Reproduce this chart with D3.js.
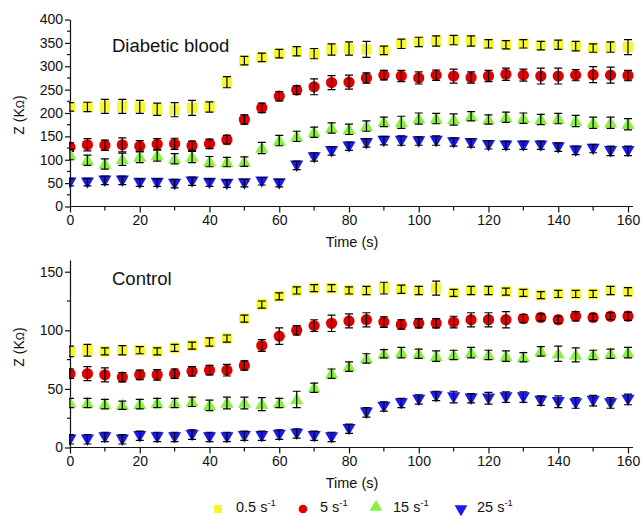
<!DOCTYPE html>
<html>
<head>
  <script src="https://d3js.org/d3.v7.min.js"></script>
  <style>
    body { margin: 0; background: #fff; }
    text { font-family: "Liberation Sans", Arial, sans-serif; fill: #111; }
    .axis path, .axis line { stroke: #111; stroke-width: 1.2px; }
    .axis text { font-size: 14px; }
    .err { stroke: #000; stroke-width: 1.2px; fill: none; }
  </style>
</head>
<body>
  <svg width="642" height="516"></svg>
  <script>
    // time points (s), every 5 s from 0 to 160
    var times = d3.range(0, 161, 5);
    var rates = ["0.5", "5", "15", "25"];
    var colors = ["#f7f72e", "#e00000", "#8cf040", "#1a1aee"];
    var shapes = [d3.symbolSquare, d3.symbolCircle, d3.symbolTriangle, d3.symbolTriangle];

    // Diabetic blood (KOhm)
    var diab05 = [213,213,214,214,213,208,207,211,213,266,312,319,327,332,327,336,338,336,334,348,352,354,356,354,348,346,348,344,346,343,339,341,341];
    var diab5  = [127,132,131,132,129,133,134,130,134,143,186,211,236,249,256,265,266,275,281,279,275,281,279,276,279,283,281,279,279,281,282,281,280];
    var diab15 = [111,99,91,101,106,109,102,106,96,95,96,125,141,150,159,168,165,172,181,180,188,188,186,193,186,191,189,186,188,183,179,179,176];
    var diab25 = [52,52,56,56,51,51,49,54,51,49,50,54,50,88,106,119,129,136,141,141,140,141,138,136,132,131,131,131,127,120,124,119,119];
    var diabErr05 = [9,10,15,15,14,13,15,16,11,12,9,9,9,10,11,12,14,17,9,10,10,11,10,11,9,9,9,9,10,10,9,11,16];
    var diabErr5  = [9,13,11,15,12,12,12,10,10,9,10,10,10,9,17,15,15,11,10,12,13,11,15,12,12,13,13,17,17,12,17,17,11];
    var diabErr15 = [11,11,11,13,12,12,11,12,11,10,10,12,11,11,11,11,11,11,10,13,12,11,12,10,10,11,11,11,11,12,12,12,12];
    var diabErr25 = [8,8,9,9,8,8,9,9,8,8,8,8,8,9,9,9,9,9,9,10,9,10,9,9,9,9,9,9,9,9,9,10,10];

    // Control (KOhm)
    var ctrl05 = [82,83,82,83,83,82,85,87,90,93,110,122,129,134,136,136,134,134,136,135,134,136,132,134,134,133,132,130,131,131,131,134,133];
    var ctrl5  = [63,63,62,60,62,62,63,65,66,66,70,87,95,100,104,106,108,109,107,105,106,106,107,109,109,109,110,111,109,112,111,112,112];
    var ctrl15 = [38,38,37,36,37,38,38,39,36,38,38,37,38,41,51,63,69,76,80,81,80,78,79,81,79,78,77,82,80,79,79,80,81];
    var ctrl25 = [7,7,9,7,10,9,9,11,9,9,10,10,11,12,10,9,16,30,35,38,41,44,43,42,42,43,43,40,39,38,40,38,41];
    var ctrlErr05 = [4.5,5,3,4,3,3,3,3,3.5,3,3,3,3,3,3,3,3,3.5,5,3.5,3.5,6,3,3.5,3.5,3,3,3,3,3,3,3.5,3.5];
    var ctrlErr5  = [4,6,6,4,4,4.5,4,4,4,5,4,5,7,4,5,7,6,6,4.5,4,4,4,5,6,6,7,3.5,3,3,4,3,3,3.5];
    var ctrlErr15 = [4,4,4,3.5,4,4,4,4,4.5,5,5,5.5,4,7,4,4,4,4,3.5,4.5,4,4.5,4,4.5,4,4.5,4,4,6.5,6,4,4,4.5];
    var ctrlErr25 = [4,4,4,4,4,4,4,4,4,4,4,4,4,4,4,4,4,4,4,4,4,4,5,4,5,4.5,4.5,4,5,4.5,4.5,4.5,4.5];

    var xTicks = d3.range(0, 161, 20);
    var panels = [
      { title: "Diabetic blood", ymax: 400, top: 19.5, bottom: 206.5, yTicks: d3.range(0, 401, 50), yMinor: d3.range(25, 400, 50),
        series: [diab05, diab5, diab15, diab25], errs: [diabErr05, diabErr5, diabErr15, diabErr25], titleY: 52, xTitleY: 247, labelY: 115 },
      { title: "Control", ymax: 160, top: 260, bottom: 447.5, yTicks: [0, 50, 100, 150], yMinor: [25, 75, 125],
        series: [ctrl05, ctrl5, ctrl15, ctrl25], errs: [ctrlErr05, ctrlErr5, ctrlErr15, ctrlErr25], titleY: 285, xTitleY: 488, labelY: 347 }
    ];

    var svg = d3.select("svg");
    var x = d3.scaleLinear().domain([0, 160]).range([70, 628]);
    var xEnd = 633;

    panels.forEach(function(p, pi) {
      var y = d3.scaleLinear().domain([0, p.ymax]).range([p.bottom, p.top]);
      var g = svg.append("g");

      svg.append("defs").append("clipPath").attr("id", "clip" + pi)
        .append("rect").attr("x", 69).attr("y", 0).attr("width", 600).attr("height", 516);

      // axes
      var xAxis = g.append("g").attr("class", "axis")
        .attr("transform", "translate(0," + p.bottom + ")")
        .call(d3.axisBottom(x).tickValues(xTicks).tickSize(6).tickSizeOuter(0).tickPadding(3));
      xAxis.select(".domain").attr("d", "M70,0H" + xEnd);
      xAxis.selectAll(".minor").data(d3.range(10, 161, 20)).enter().append("line")
        .attr("x1", function(d) { return x(d); }).attr("x2", function(d) { return x(d); })
        .attr("y1", 0).attr("y2", 4);

      var yAxis = g.append("g").attr("class", "axis")
        .attr("transform", "translate(70,0)")
        .call(d3.axisLeft(y).tickValues(p.yTicks).tickSize(5).tickSizeOuter(0).tickPadding(2));
      yAxis.selectAll(".minor").data(p.yMinor).enter().append("line")
        .attr("x1", -3).attr("x2", 0)
        .attr("y1", function(d) { return y(d); }).attr("y2", function(d) { return y(d); });

      // titles
      g.append("text").attr("x", 112).attr("y", p.titleY).style("font-size", "18.5px").text(p.title);
      g.append("text").attr("x", 352).attr("y", p.xTitleY).attr("text-anchor", "middle")
        .style("font-size", "14.5px").text("Time (s)");
      var yl = g.append("text").attr("transform", "translate(24," + p.labelY + ") rotate(-90)")
        .attr("text-anchor", "middle").style("font-size", "14px");
      yl.append("tspan").text("Z (K");
      yl.append("tspan").style("font-size", "11px").text("\u03A9");
      yl.append("tspan").text(")");

      // markers and error bars
      var plot = g.append("g").attr("clip-path", "url(#clip" + pi + ")");
      p.series.forEach(function(vals, si) {
        var sym = d3.symbol().type(shapes[si]).size(si === 1 ? 100 : (si === 0 ? 110 : 75));
        var pts = times.map(function(t, i) { return { t: t, v: vals[i], e: p.errs[si][i] }; });
        plot.selectAll(".m" + si).data(pts).enter().append("path")
          .attr("d", sym)
          .attr("fill", colors[si])
          .attr("transform", function(d) {
            return "translate(" + x(d.t) + "," + y(d.v) + ")" + (si === 3 ? " rotate(180)" : "") + (si >= 2 ? " translate(0,1)" : "");
          });
        plot.selectAll(".e" + si).data(pts).enter().append("path")
          .attr("class", "err")
          .attr("d", function(d) {
            var cx = x(d.t), y1 = y(d.v + d.e), y2 = y(d.v - d.e);
            return "M" + cx + "," + y1 + "V" + y2 + "M" + (cx - 4) + "," + y1 + "H" + (cx + 4) + "M" + (cx - 4) + "," + y2 + "H" + (cx + 4);
          });
      });
    });

    // legend
    var legX = [218, 303, 376, 461];
    var legTextX = [236, 320, 393, 477];
    var leg = svg.append("g");
    rates.forEach(function(r, i) {
      var sym = d3.symbol().type(shapes[i]).size(i === 0 ? 64 : (i === 1 ? 60 : 70));
      leg.append("path").attr("d", sym).attr("fill", colors[i])
        .attr("transform", "translate(" + legX[i] + "," + (i === 2 ? 507 : 509) + ")" + (i === 3 ? " rotate(180)" : ""));
      var t = leg.append("text").attr("x", legTextX[i]).attr("y", 512).style("font-size", "14.5px");
      t.append("tspan").text(r + " s");
      t.append("tspan").attr("dy", -6).style("font-size", "9.5px").text("-1");
    });
  </script>
</body>
</html>
